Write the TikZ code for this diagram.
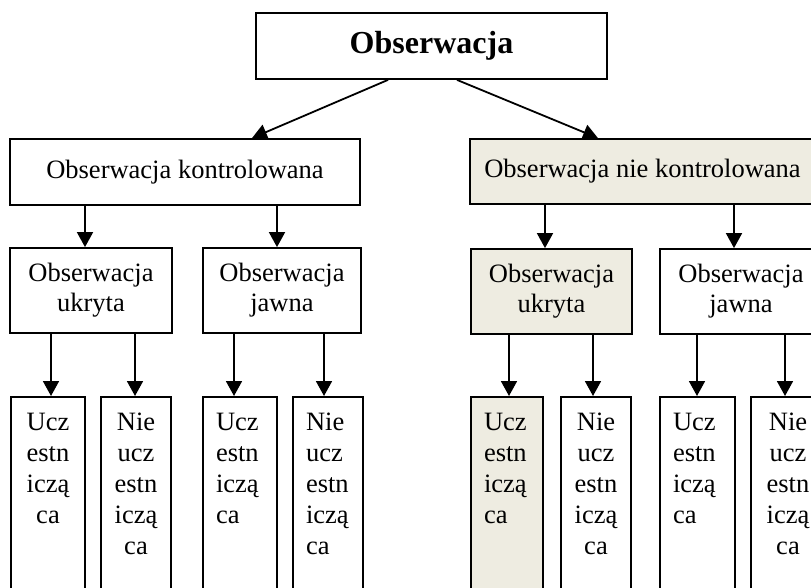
\documentclass[tikz,border=0pt]{standalone}
\usepackage{fontspec}
\setmainfont{Liberation Serif}
\usetikzlibrary{arrows.meta}
\definecolor{paper}{HTML}{EEECE1}

\begin{document}
\begin{tikzpicture}[x=1pt,y=-1pt,
  txt/.style={font=\fontsize{26.5}{30}\selectfont},
  box/.style={draw, line width=1.8pt, rectangle, inner sep=0pt, txt, align=center},
  shaded/.style={fill=paper},
  col/.style={box, anchor=north, minimum height=250pt},
  lab/.style={anchor=north, yshift=-17pt, inner sep=0pt,
              font=\fontsize{26.5}{31}\selectfont},
  arr/.style={line width=1.8pt, -{Triangle[width=16pt,length=15pt]}}]

\clip (0,0) rectangle (811,588);
\fill[white] (0,0) rectangle (811,588);

% top level
\node[box, minimum width=351pt, minimum height=66pt,
      font=\bfseries\fontsize{32}{36}\selectfont] (top) at (431.5,46) {Obserwacja};

% second level
\node[box, minimum width=350pt, minimum height=66pt] (l2a) at (185,172) {Obserwacja kontrolowana};
\node[box, shaded, minimum width=345pt, minimum height=65pt] (l2b) at (642.5,171.5) {Obserwacja nie kontrolowana};

% third level
\node[box, minimum width=162pt, minimum height=85pt] (l3a) at (91,290.5) {Obserwacja\\ukryta};
\node[box, minimum width=158pt, minimum height=85pt] (l3b) at (282,290.5) {Obserwacja\\jawna};
\node[box, shaded, minimum width=161pt, minimum height=85pt] (l3c) at (551.5,291.5) {Obserwacja\\ukryta};
\node[box, minimum width=162pt, minimum height=85pt] (l3d) at (741,291.5) {Obserwacja\\jawna};

% fourth level columns
\node[col, minimum width=74pt,
      label={[lab, align=center]north:Ucz\\estn\\iczą\\ca}] (c1) at (48,396) {};
\node[col, minimum width=70pt,
      label={[lab, align=center]north:Nie\\ucz\\estn\\iczą\\ca}] (c2) at (136,396) {};
\node[col, minimum width=74pt,
      label={[lab, text width=48pt, align=left]north:Ucz\\estn\\iczą\\ca}] (c3) at (240,396) {};
\node[col, minimum width=70pt,
      label={[lab, text width=44pt, align=left]north:Nie\\ucz\\estn\\iczą\\ca}] (c4) at (328,396) {};
\node[col, shaded, minimum width=72pt,
      label={[lab, text width=46pt, align=left]north:Ucz\\estn\\iczą\\ca}] (c5) at (507,396) {};
\node[col, minimum width=70pt,
      label={[lab, align=center]north:Nie\\ucz\\estn\\iczą\\ca}] (c6) at (596,396) {};
\node[col, minimum width=75pt,
      label={[lab, text width=49pt, align=left]north:Ucz\\estn\\iczą\\ca}] (c7) at (697.5,396) {};
\node[col, minimum width=74pt,
      label={[lab, align=center]north:Nie\\ucz\\estn\\iczą\\ca}] (c8) at (788,396) {};

% connectors
\draw[arr] ([xshift=-43.5pt]top.south) -- ([xshift=67pt]l2a.north);
\draw[arr] ([xshift=25.5pt]top.south) -- ([xshift=-44.5pt]l2b.north);

\draw[arr] ([xshift=-6pt]l3a.north |- l2a.south) -- ([xshift=-6pt]l3a.north);
\draw[arr] ([xshift=-5pt]l3b.north |- l2a.south) -- ([xshift=-5pt]l3b.north);
\draw[arr] ([xshift=-6.5pt]l3c.north |- l2b.south) -- ([xshift=-6.5pt]l3c.north);
\draw[arr] ([xshift=-7pt]l3d.north |- l2b.south) -- ([xshift=-7pt]l3d.north);

\draw[arr] ([xshift=3pt]c1.north |- l3a.south) -- ([xshift=3pt]c1.north);
\draw[arr] ([xshift=-1pt]c2.north |- l3a.south) -- ([xshift=-1pt]c2.north);
\draw[arr] ([xshift=-6pt]c3.north |- l3b.south) -- ([xshift=-6pt]c3.north);
\draw[arr] ([xshift=-4pt]c4.north |- l3b.south) -- ([xshift=-4pt]c4.north);
\draw[arr] ([xshift=2pt]c5.north |- l3c.south) -- ([xshift=2pt]c5.north);
\draw[arr] ([xshift=-3pt]c6.north |- l3c.south) -- ([xshift=-3pt]c6.north);
\draw[arr] ([xshift=-0.5pt]c7.north |- l3d.south) -- ([xshift=-0.5pt]c7.north);
\draw[arr] ([xshift=-3pt]c8.north |- l3d.south) -- ([xshift=-3pt]c8.north);
\end{tikzpicture}
\end{document}
